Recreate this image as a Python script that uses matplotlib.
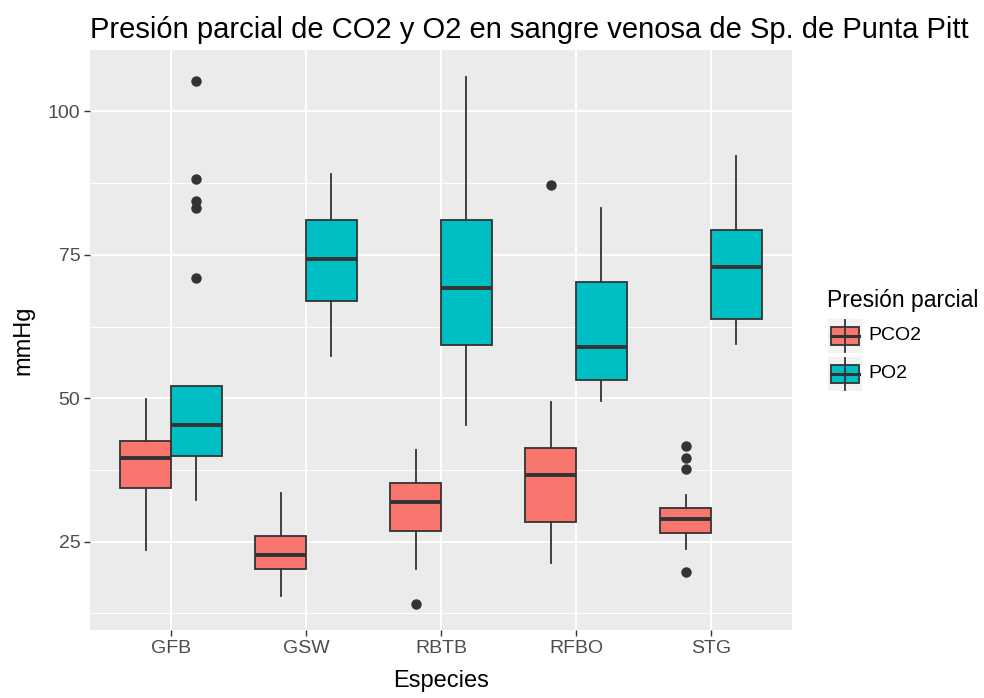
import numpy as np
import matplotlib.pyplot as plt
from matplotlib.patches import Rectangle
from matplotlib.lines import Line2D

plt.rcParams['font.family'] = ['Liberation Sans', 'DejaVu Sans']

# data (mmHg)
especies = ["GFB", "GSW", "RBTB", "RFBO", "STG"]
grupos = ["PCO2", "PO2"]

pco2_whislo = [23.5, 15.6, 20.2, 21.3, 23.8]
pco2_q1 = [34.4, 20.2, 26.9, 28.5, 26.5]
pco2_med = [39.6, 22.7, 31.9, 36.7, 29.0]
pco2_q3 = [42.6, 26.0, 35.2, 41.4, 30.9]
pco2_whishi = [49.9, 33.4, 40.9, 49.3, 33.2]
pco2_fliers = [[], [], [14.1], [87.1], [41.6, 39.6, 37.7, 19.7]]

po2_whislo = [32.2, 57.4, 45.4, 49.5, 59.4]
po2_q1 = [40.0, 67.0, 59.2, 53.2, 63.8]
po2_med = [45.4, 74.2, 69.2, 58.9, 72.9]
po2_q3 = [52.1, 81.1, 81.1, 70.2, 79.4]
po2_whishi = [52.1, 89.1, 106.0, 83.2, 92.3]
po2_fliers = [[105.3, 88.3, 84.3, 83.1, 71.0], [], [], [], []]

colores = ["#F8766D", "#00BFC4"]
borde = "#333333"

fig = plt.figure(figsize=(9.84, 6.98), dpi=100)
ax = fig.add_axes([90 / 984, 1 - 630 / 698, 702 / 984, 580 / 698])
ax.set_facecolor("#EBEBEB")


def stats(wlo, q1, med, q3, whi, fl):
    return [dict(whislo=a, q1=b, med=c, q3=d, whishi=e, fliers=f)
            for a, b, c, d, e, f in zip(wlo, q1, med, q3, whi, fl)]


x = np.arange(1, len(especies) + 1)
series = [
    stats(pco2_whislo, pco2_q1, pco2_med, pco2_q3, pco2_whishi, pco2_fliers),
    stats(po2_whislo, po2_q1, po2_med, po2_q3, po2_whishi, po2_fliers),
]
for i, st in enumerate(series):
    ax.bxp(st, positions=x + (i - 0.5) * 0.375, widths=0.375,
           patch_artist=True, showcaps=False,
           boxprops=dict(facecolor=colores[i], edgecolor=borde, linewidth=1.3),
           medianprops=dict(color=borde, linewidth=2.8),
           whiskerprops=dict(color=borde, linewidth=1.3),
           flierprops=dict(marker="o", markerfacecolor=borde,
                           markeredgecolor=borde, markersize=6.5),
           zorder=3)

ax.set_xlim(0.4, 5.6)
ax.set_ylim(9.6, 110.7)
ax.set_xticks(x)
ax.set_xticklabels(especies)
ax.set_yticks([25, 50, 75, 100])
ax.set_yticks([12.5, 37.5, 62.5, 87.5], minor=True)
ax.set_xticks([], minor=True)
ax.grid(True, which="major", color="white", linewidth=1.4, zorder=0)
ax.grid(True, which="minor", axis="y", color="white", linewidth=0.7, zorder=0)
ax.set_axisbelow(True)
for s in ax.spines.values():
    s.set_visible(False)
ax.tick_params(which="major", length=4, width=1, color=borde,
               labelcolor="#4D4D4D", labelsize=14, pad=3)
ax.tick_params(which="minor", length=0)

ax.set_xlabel("Especies", fontsize=17, va="center")
ax.xaxis.set_label_coords(0.5, (630 - 681) / 580)
ax.set_ylabel("mmHg", fontsize=17, va="center")
ax.yaxis.set_label_coords((23 - 90) / 702, 0.5)
fig.text(90 / 984, 1 - 30 / 698, "Presión parcial de CO2 y O2 en sangre venosa de Sp. de Punta Pitt",
         fontsize=21, ha="left", va="center")

# legend drawn like ggplot keys
fig.text(827 / 984, 1 - 300 / 698, "Presión parcial", fontsize=16.5,
         ha="left", va="center")
for i, g in enumerate(grupos):
    yc = 336 + i * 38
    fig.patches.append(Rectangle((828 / 984, 1 - (yc + 17) / 698), 34 / 984, 34 / 698,
                                 transform=fig.transFigure, facecolor="#F2F2F2",
                                 edgecolor="none"))
    fig.lines.append(Line2D([845 / 984, 845 / 984], [1 - (yc - 16) / 698, 1 - (yc + 16) / 698],
                            transform=fig.transFigure, color=borde, linewidth=1.3))
    fig.patches.append(Rectangle((831 / 984, 1 - (yc + 9) / 698), 28 / 984, 18 / 698,
                                 transform=fig.transFigure, facecolor=colores[i],
                                 edgecolor=borde, linewidth=1.3))
    fig.lines.append(Line2D([831 / 984, 859 / 984], [1 - yc / 698, 1 - yc / 698],
                            transform=fig.transFigure, color=borde, linewidth=2.2))
    fig.text(868 / 984, 1 - yc / 698, g, fontsize=14, ha="left", va="center")

fig.savefig("out.png", dpi=100)
